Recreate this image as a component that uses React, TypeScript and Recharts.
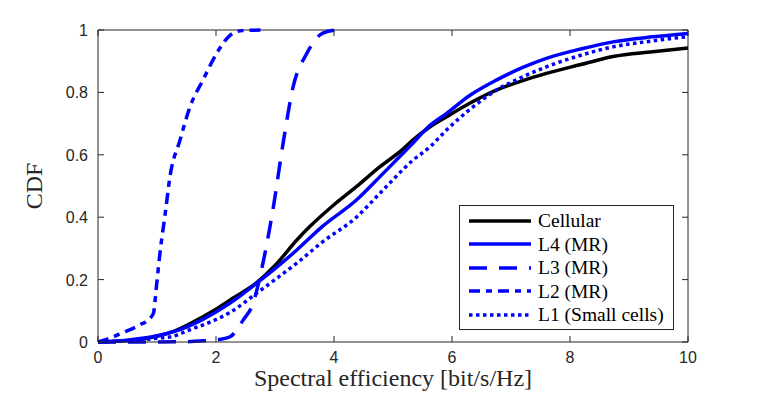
import { LineChart, Line, XAxis, YAxis, ReferenceLine, Label } from 'recharts';

// ── Data (x = spectral efficiency, y = CDF) ──
const SE_CELLULAR = [0, 0.5, 1.0, 1.27, 1.78, 2.0, 2.24, 2.69, 3.0, 3.37, 3.59, 4.0, 4.38, 4.78, 5.17, 5.34, 5.63, 5.91, 6.3, 6.76, 7.2, 7.6, 8.2, 8.73, 9.4, 10];
const CDF_CELLULAR = [0, 0.005, 0.018, 0.033, 0.081, 0.105, 0.135, 0.19, 0.245, 0.327, 0.37, 0.44, 0.498, 0.562, 0.618, 0.648, 0.69, 0.722, 0.765, 0.808, 0.838, 0.861, 0.89, 0.915, 0.93, 0.942];

const SE_L4 = [0, 0.5, 1.0, 1.5, 1.8, 2.24, 2.7, 3.0, 3.37, 3.8, 4.38, 4.78, 5.17, 5.34, 5.6, 5.91, 6.3, 6.76, 7.2, 7.6, 8.2, 8.73, 9.4, 10];
const CDF_L4 = [0, 0.006, 0.02, 0.048, 0.075, 0.125, 0.19, 0.235, 0.295, 0.37, 0.455, 0.53, 0.605, 0.638, 0.69, 0.733, 0.79, 0.84, 0.88, 0.909, 0.94, 0.962, 0.978, 0.989];

const SE_L3 = [0, 1.0, 1.5, 1.8, 2.05, 2.24, 2.46, 2.63, 2.77, 2.97, 3.14, 3.31, 3.54, 3.76, 3.9, 4.04];
const CDF_L3 = [0, 0, 0.001, 0.004, 0.008, 0.017, 0.07, 0.125, 0.23, 0.43, 0.64, 0.82, 0.925, 0.984, 0.996, 1.0];

const SE_L2 = [0, 0.2, 0.42, 0.71, 0.88, 0.94, 0.99, 1.05, 1.14, 1.22, 1.39, 1.56, 1.78, 2.01, 2.15, 2.29, 2.45, 2.85];
const CDF_L2 = [0, 0.012, 0.03, 0.055, 0.075, 0.092, 0.177, 0.285, 0.413, 0.53, 0.647, 0.754, 0.84, 0.925, 0.965, 0.99, 0.998, 1.0];

const SE_L1 = [0, 0.5, 1.0, 1.27, 1.5, 2.0, 2.24, 2.7, 3.0, 3.37, 3.8, 4.38, 4.78, 5.34, 5.63, 5.91, 6.3, 6.76, 7.2, 7.6, 8.2, 8.73, 9.4, 10];
const CDF_L1 = [0, 0.004, 0.012, 0.018, 0.035, 0.072, 0.095, 0.158, 0.2, 0.253, 0.32, 0.40, 0.477, 0.583, 0.626, 0.68, 0.745, 0.808, 0.85, 0.882, 0.92, 0.946, 0.965, 0.979];

const X_TICKS = [0, 2, 4, 6, 8, 10];
const Y_TICKS = [0, 0.2, 0.4, 0.6, 0.8, 1];

const zip = (xs: number[], ys: number[]) => xs.map((x, i) => ({ x, y: ys[i] }));

const SERIES = [
  { name: 'Cellular', data: zip(SE_CELLULAR, CDF_CELLULAR), color: '#000000', dash: undefined as string | undefined },
  { name: 'L4 (MR)', data: zip(SE_L4, CDF_L4), color: '#0000ff', dash: undefined },
  { name: 'L3 (MR)', data: zip(SE_L3, CDF_L3), color: '#0000ff', dash: '18 12' },
  { name: 'L2 (MR)', data: zip(SE_L2, CDF_L2), color: '#0000ff', dash: '11 6 6 6' },
  { name: 'L1 (Small cells)', data: zip(SE_L1, CDF_L1), color: '#0000ff', dash: '3.5 3.5' },
];

// ── Layout ──────────────────────────────────────────────────
const W = 755;
const H = 399;
const PLOT_TOP = 22;
const PLOT_BOTTOM = 334;
const PLOT_LEFT = 90;
const PLOT_RIGHT = 680;
const AXIS = '#262626';
const TICK_FONT = "'Liberation Sans', Arial, sans-serif";
const SERIF = "'Liberation Serif', 'Times New Roman', serif";
const TICK_LEN = 6;

function XTick(props: any) {
  const { x, y, payload } = props;
  return (
    <g>
      <line x1={x} x2={x} y1={PLOT_BOTTOM} y2={PLOT_BOTTOM - TICK_LEN} stroke={AXIS} />
      <line x1={x} x2={x} y1={PLOT_TOP} y2={PLOT_TOP + TICK_LEN} stroke={AXIS} />
      <text x={x} y={y} dy={13} textAnchor="middle" fontFamily={TICK_FONT} fontSize={16} fill={AXIS}>
        {payload.value}
      </text>
    </g>
  );
}

function YTick(props: any) {
  const { x, y, payload } = props;
  return (
    <g>
      <line x1={PLOT_LEFT} x2={PLOT_LEFT + TICK_LEN} y1={y} y2={y} stroke={AXIS} />
      <line x1={PLOT_RIGHT} x2={PLOT_RIGHT - TICK_LEN} y1={y} y2={y} stroke={AXIS} />
      <text x={x} y={y} dy={6} textAnchor="end" fontFamily={TICK_FONT} fontSize={16} fill={AXIS}>
        {payload.value}
      </text>
    </g>
  );
}

function LegendBox() {
  return (
    <div
      style={{
        position: 'absolute', left: 451, top: 197,
        width: 213, height: 120, border: `1px solid ${AXIS}`, background: '#fff',
        paddingTop: 3,
      }}
    >
      {SERIES.map(s => (
        <div key={s.name} style={{ display: 'flex', alignItems: 'center', height: 23.5 }}>
          <svg width={78} height={10} style={{ flexShrink: 0 }}>
            <line x1={9} x2={71} y1={5} y2={5} stroke={s.color} strokeWidth={3.5} strokeDasharray={s.dash} />
          </svg>
          <span style={{ fontFamily: SERIF, fontSize: 19.5, color: '#000', lineHeight: 1, whiteSpace: 'nowrap' }}>
            {s.name}
          </span>
        </div>
      ))}
    </div>
  );
}

export default function App() {
  return (
    <div style={{ width: W, height: H, position: 'relative', background: '#fff' }}>
      <LineChart width={W} height={H} margin={{ top: PLOT_TOP, right: W - PLOT_RIGHT, bottom: 25, left: 30 }}>
        <XAxis
          type="number" dataKey="x" domain={[0, 10]} ticks={X_TICKS} allowDuplicatedCategory={false}
          height={H - PLOT_BOTTOM - 25} tickLine={false} tickSize={0} tickMargin={8}
          axisLine={{ stroke: AXIS }} tick={<XTick />} interval={0}
        >
          <Label
            content={({ viewBox }: any) => (
              <text x={viewBox.x + viewBox.width / 2} y={viewBox.y + 44} textAnchor="middle" fontFamily={SERIF} fontSize={24} fill={AXIS}>
                Spectral efficiency [bit/s/Hz]
              </text>
            )}
          />
        </XAxis>
        <YAxis
          type="number" dataKey="y" domain={[0, 1]} ticks={Y_TICKS}
          width={PLOT_LEFT - 30} tickLine={false} tickSize={0} tickMargin={10}
          axisLine={{ stroke: AXIS }} tick={<YTick />} interval={0}
        >
          <Label
            content={({ viewBox }: any) => {
              const cx = 34;
              const cy = viewBox.y + viewBox.height / 2;
              return (
                <text x={cx} y={cy} transform={`rotate(-90 ${cx} ${cy})`} textAnchor="middle" fontFamily={SERIF} fontSize={24} fill={AXIS}>
                  CDF
                </text>
              );
            }}
          />
        </YAxis>
        <ReferenceLine y={1} stroke={AXIS} strokeWidth={1} />
        <ReferenceLine x={10} stroke={AXIS} strokeWidth={1} />
        {SERIES.map(s => (
          <Line
            key={s.name}
            data={s.data}
            dataKey="y"
            name={s.name}
            type="monotone"
            stroke={s.color}
            strokeWidth={3.5}
            strokeDasharray={s.dash}
            dot={false}
            activeDot={false}
            isAnimationActive={false}
          />
        ))}
      </LineChart>
      <LegendBox />
    </div>
  );
}
